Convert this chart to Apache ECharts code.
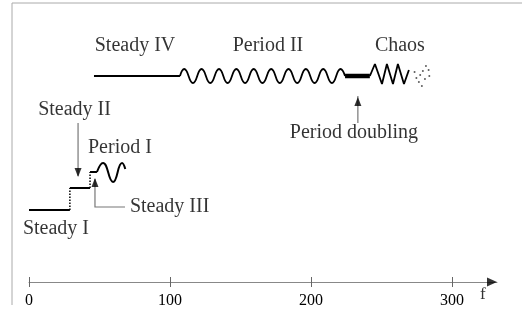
<!DOCTYPE html>
<html>
<head>
<meta charset="utf-8">
<script src="https://cdn.jsdelivr.net/npm/echarts@6/dist/echarts.min.js"></script>
<style>
	html, body { margin: 0; padding: 0; background: #fff; }
	#chart { width: 529px; height: 313px; }
</style>
</head>
<body>
<div id="chart"></div>
<script>
// f axis ticks
var tickValues = [0, 100, 200, 300];

// regime branches, [f, level]
var steady1 = [[0, 72], [29, 72]];
var steady2 = [[29, 94], [43.3, 94]];
var jump1 = [[29, 72], [29, 94]];
var jump2 = [[43.3, 94], [43.3, 110]];
var steady3 = [[43.3, 110], [48.2, 110]];
var period1 = [[48.2, 110], [52.5, 119], [59.6, 100], [66, 119], [68.3, 113]];
var steady4 = [[46.1, 206], [107.1, 206]];
var period2 = [[107.1, 206], [110.1, 213], [116.3, 199], [122.4, 213], [128.6, 199], [134.8, 213],
	[140.9, 199], [147.1, 213], [153.3, 199], [159.4, 213], [165.6, 199], [171.8, 213], [177.9, 199],
	[184.1, 213], [190.3, 199], [196.4, 213], [202.6, 199], [208.7, 213], [214.9, 199], [221.0, 213], [224.2, 206]];
var doubling = [[224.2, 206], [241.8, 206]];
var chaos = [[241.8, 206], [245.4, 218], [250.4, 198], [253.9, 218], [258.2, 198], [261.7, 218], [266, 198], [269.5, 212]];
var chaosDots = [[281.6, 216], [283.5, 212], [279.4, 211], [277.5, 207], [274.8, 204], [284, 206],
	[280.9, 203], [276.6, 200], [278.7, 196], [273.5, 210]];

// pointer arrows
var arrowLines = [
	[[34.8, 159], [34.8, 106]],
	[[68.1, 75], [46.8, 75], [46.8, 103]],
	[[233.3, 159], [233.3, 186]]
];
var arrowDown = [[34.8, 105]];
var arrowUp = [[46.8, 104], [233.3, 185]];

// text
var labels = [
	{ text: 'Steady IV', at: [75.2, 236] },
	{ text: 'Period II', at: [169.5, 236] },
	{ text: 'Chaos', at: [263.1, 236] },
	{ text: 'Steady II', at: [32.3, 172] },
	{ text: 'Period I', at: [64.5, 134] },
	{ text: 'Steady I', at: [19.1, 53] },
	{ text: 'Period doubling', at: [230.5, 149] }
];
var leftLabels = [{ text: 'Steady III', at: [71.6, 75] }];
var axisName = [{ text: 'f', at: [322, -13] }];

var serif = "'Liberation Serif', 'Times New Roman', serif";

function branch(data, width, smooth, type) {
	return {
		type: 'line',
		data: data,
		smooth: smooth,
		symbol: 'none',
		silent: true,
		animation: false,
		lineStyle: { color: '#000', width: width, type: type || 'solid' }
	};
}

function textSeries(items, align) {
	return {
		type: 'scatter',
		symbolSize: 0,
		silent: true,
		animation: false,
		clip: false,
		data: items.map(function(d) { return { value: d.at, name: d.text }; }),
		label: {
			show: true,
			position: 'inside',
			formatter: '{b}',
			align: align,
			verticalAlign: 'middle',
			color: '#000',
			fontFamily: serif,
			fontSize: 20
		}
	};
}

var myChart = echarts.init(document.getElementById('chart'));
var option = {
	backgroundColor: '#fff',
	animation: false,
	grid: { left: 29, right: 32, top: 0, bottom: 31, outerBoundsMode: 'none', containLabel: false },
	graphic: [
		{ type: 'line', shape: { x1: 12, y1: 3, x2: 522, y2: 3 }, style: { stroke: '#aaa', lineWidth: 1 } },
		{ type: 'line', shape: { x1: 12, y1: 3, x2: 12, y2: 305 }, style: { stroke: '#aaa', lineWidth: 1 } }
	],
	xAxis: [{
		type: 'value',
		position: 'bottom',
		min: 0,
		max: 332,
		axisLine: { onZero: false, lineStyle: { color: '#888', width: 1 } },
		axisTick: { show: true, length: 5, customValues: tickValues, lineStyle: { color: '#666' } },
		axisLabel: {
			customValues: tickValues,
			margin: 11,
			color: '#000',
			fontFamily: serif,
			fontSize: 16
		},
		splitLine: { show: false }
	}, {
		type: 'value',
		position: 'bottom',
		min: 0,
		max: 332,
		axisLine: { show: false, onZero: false },
		axisTick: { show: true, inside: true, length: 5, customValues: tickValues, lineStyle: { color: '#666' } },
		axisLabel: { show: false },
		splitLine: { show: false }
	}],
	yAxis: {
		type: 'value',
		min: 0,
		max: 282,
		show: false
	},
	series: [
		branch(steady1, 2),
		branch(jump1, 1.5, false, 'dotted'),
		branch(steady2, 2),
		branch(jump2, 1.5, false, 'dotted'),
		branch(steady3, 2),
		branch(period1, 2, true),
		branch(steady4, 2),
		branch(period2, 1.8, true),
		branch(doubling, 4.5),
		branch(chaos, 1.8),
		{
			type: 'scatter',
			data: chaosDots,
			symbolSize: 2,
			silent: true,
			itemStyle: { color: '#333' }
		},
		{
			type: 'lines',
			coordinateSystem: 'cartesian2d',
			polyline: true,
			silent: true,
			data: arrowLines.map(function(c) { return { coords: c }; }),
			lineStyle: { color: '#777', width: 1.2, opacity: 1 }
		},
		{
			type: 'scatter',
			data: arrowDown,
			symbol: 'path://M0,0L10,0L5,10Z',
			symbolSize: [7, 9],
			symbolOffset: [0, -4.5],
			silent: true,
			itemStyle: { color: '#000' }
		},
		{
			type: 'scatter',
			data: arrowUp,
			symbol: 'path://M5,0L10,10L0,10Z',
			symbolSize: [7, 9],
			symbolOffset: [0, 4.5],
			silent: true,
			itemStyle: { color: '#000' }
		},
		{
			type: 'scatter',
			data: [[332, 0]],
			symbol: 'path://M0,0L10,5L0,10Z',
			symbolSize: [10, 9],
			symbolOffset: [-5, 0],
			silent: true,
			clip: false,
			itemStyle: { color: '#000' }
		},
		textSeries(labels, 'center'),
		textSeries(leftLabels, 'left'),
		(function() {
			var s = textSeries(axisName, 'center');
			s.label.fontSize = 17;
			return s;
		})()
	]
};
myChart.setOption(option);
</script>
</body>
</html>
